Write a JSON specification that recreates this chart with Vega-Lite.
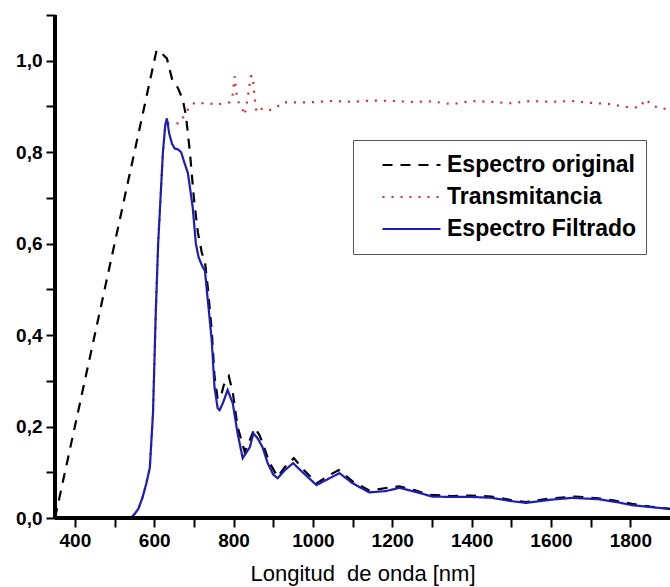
{
  "$schema": "https://vega.github.io/schema/vega-lite/v6.json",
  "width": 615,
  "height": 503,
  "autosize": {"type": "none"},
  "padding": {"left": 55, "top": 15, "right": 0, "bottom": 69},
  "background": "white",
  "config": {"view": {"stroke": null}, "axis": {"grid": false}},
  "data": {"values": [
    {"s":"Espectro original","x":350,"y":0.0},{"s":"Espectro original","x":606,"y":1.023},{"s":"Espectro original","x":620,"y":1.015},{"s":"Espectro original","x":632,"y":1.005},{"s":"Espectro original","x":645,"y":0.96},{"s":"Espectro original","x":660,"y":0.94},{"s":"Espectro original","x":672,"y":0.915},{"s":"Espectro original","x":680,"y":0.88},{"s":"Espectro original","x":690,"y":0.80},{"s":"Espectro original","x":700,"y":0.70},{"s":"Espectro original","x":710,"y":0.625},{"s":"Espectro original","x":720,"y":0.58},{"s":"Espectro original","x":728,"y":0.56},{"s":"Espectro original","x":735,"y":0.505},{"s":"Espectro original","x":745,"y":0.41},{"s":"Espectro original","x":752,"y":0.31},{"s":"Espectro original","x":760,"y":0.26},{"s":"Espectro original","x":768,"y":0.265},{"s":"Espectro original","x":775,"y":0.29},{"s":"Espectro original","x":788,"y":0.31},{"s":"Espectro original","x":798,"y":0.275},{"s":"Espectro original","x":810,"y":0.20},{"s":"Espectro original","x":828,"y":0.145},{"s":"Espectro original","x":840,"y":0.168},{"s":"Espectro original","x":853,"y":0.197},{"s":"Espectro original","x":865,"y":0.182},{"s":"Espectro original","x":875,"y":0.16},{"s":"Espectro original","x":890,"y":0.122},{"s":"Espectro original","x":911,"y":0.09},{"s":"Espectro original","x":930,"y":0.112},{"s":"Espectro original","x":952,"y":0.131},{"s":"Espectro original","x":975,"y":0.107},{"s":"Espectro original","x":1010,"y":0.076},{"s":"Espectro original","x":1040,"y":0.093},{"s":"Espectro original","x":1065,"y":0.105},{"s":"Espectro original","x":1100,"y":0.08},{"s":"Espectro original","x":1142,"y":0.06},{"s":"Espectro original","x":1180,"y":0.065},{"s":"Espectro original","x":1218,"y":0.069},{"s":"Espectro original","x":1260,"y":0.06},{"s":"Espectro original","x":1290,"y":0.051},{"s":"Espectro original","x":1350,"y":0.048},{"s":"Espectro original","x":1400,"y":0.049},{"s":"Espectro original","x":1450,"y":0.047},{"s":"Espectro original","x":1500,"y":0.039},{"s":"Espectro original","x":1537,"y":0.035},{"s":"Espectro original","x":1600,"y":0.043},{"s":"Espectro original","x":1660,"y":0.047},{"s":"Espectro original","x":1720,"y":0.043},{"s":"Espectro original","x":1760,"y":0.038},{"s":"Espectro original","x":1804,"y":0.031},{"s":"Espectro original","x":1850,"y":0.025},{"s":"Espectro original","x":1900,"y":0.02},
    {"s":"Transmitancia","x":350,"y":0},{"s":"Transmitancia","x":545,"y":0},{"s":"Transmitancia","x":550,"y":0.008},{"s":"Transmitancia","x":560,"y":0.02},{"s":"Transmitancia","x":571,"y":0.046},{"s":"Transmitancia","x":580,"y":0.075},{"s":"Transmitancia","x":589,"y":0.11},{"s":"Transmitancia","x":597,"y":0.23},{"s":"Transmitancia","x":604,"y":0.45},{"s":"Transmitancia","x":610,"y":0.6},{"s":"Transmitancia","x":616,"y":0.7},{"s":"Transmitancia","x":622,"y":0.8},{"s":"Transmitancia","x":628,"y":0.86},{"s":"Transmitancia","x":634,"y":0.863},{"s":"Transmitancia","x":664,"y":0.863},{"s":"Transmitancia","x":681,"y":0.888},{"s":"Transmitancia","x":695,"y":0.905},{"s":"Transmitancia","x":707,"y":0.909},{"s":"Transmitancia","x":722,"y":0.907},{"s":"Transmitancia","x":740,"y":0.907},{"s":"Transmitancia","x":757,"y":0.903},{"s":"Transmitancia","x":773,"y":0.907},{"s":"Transmitancia","x":790,"y":0.909},{"s":"Transmitancia","x":797,"y":0.92},{"s":"Transmitancia","x":803,"y":0.966},{"s":"Transmitancia","x":806,"y":0.935},{"s":"Transmitancia","x":812,"y":0.91},{"s":"Transmitancia","x":820,"y":0.9},{"s":"Transmitancia","x":828,"y":0.881},{"s":"Transmitancia","x":836,"y":0.92},{"s":"Transmitancia","x":843,"y":0.965},{"s":"Transmitancia","x":848,"y":0.968},{"s":"Transmitancia","x":853,"y":0.92},{"s":"Transmitancia","x":858,"y":0.887},{"s":"Transmitancia","x":873,"y":0.896},{"s":"Transmitancia","x":891,"y":0.892},{"s":"Transmitancia","x":908,"y":0.898},{"s":"Transmitancia","x":924,"y":0.909},{"s":"Transmitancia","x":959,"y":0.909},{"s":"Transmitancia","x":991,"y":0.909},{"s":"Transmitancia","x":1050,"y":0.912},{"s":"Transmitancia","x":1100,"y":0.91},{"s":"Transmitancia","x":1150,"y":0.913},{"s":"Transmitancia","x":1200,"y":0.912},{"s":"Transmitancia","x":1250,"y":0.91},{"s":"Transmitancia","x":1300,"y":0.911},{"s":"Transmitancia","x":1350,"y":0.905},{"s":"Transmitancia","x":1400,"y":0.912},{"s":"Transmitancia","x":1450,"y":0.91},{"s":"Transmitancia","x":1500,"y":0.907},{"s":"Transmitancia","x":1550,"y":0.912},{"s":"Transmitancia","x":1600,"y":0.91},{"s":"Transmitancia","x":1650,"y":0.912},{"s":"Transmitancia","x":1700,"y":0.908},{"s":"Transmitancia","x":1750,"y":0.905},{"s":"Transmitancia","x":1780,"y":0.9},{"s":"Transmitancia","x":1800,"y":0.898},{"s":"Transmitancia","x":1823,"y":0.898},{"s":"Transmitancia","x":1839,"y":0.916},{"s":"Transmitancia","x":1855,"y":0.902},{"s":"Transmitancia","x":1880,"y":0.895},{"s":"Transmitancia","x":1900,"y":0.895},
    {"s":"Espectro Filtrado","x":350,"y":0},{"s":"Espectro Filtrado","x":540,"y":0},{"s":"Espectro Filtrado","x":550,"y":0.008},{"s":"Espectro Filtrado","x":560,"y":0.02},{"s":"Espectro Filtrado","x":571,"y":0.046},{"s":"Espectro Filtrado","x":580,"y":0.075},{"s":"Espectro Filtrado","x":589,"y":0.11},{"s":"Espectro Filtrado","x":597,"y":0.23},{"s":"Espectro Filtrado","x":604,"y":0.45},{"s":"Espectro Filtrado","x":610,"y":0.6},{"s":"Espectro Filtrado","x":616,"y":0.7},{"s":"Espectro Filtrado","x":622,"y":0.8},{"s":"Espectro Filtrado","x":628,"y":0.86},{"s":"Espectro Filtrado","x":632,"y":0.874},{"s":"Espectro Filtrado","x":638,"y":0.84},{"s":"Espectro Filtrado","x":645,"y":0.818},{"s":"Espectro Filtrado","x":652,"y":0.808},{"s":"Espectro Filtrado","x":660,"y":0.806},{"s":"Espectro Filtrado","x":668,"y":0.8},{"s":"Espectro Filtrado","x":675,"y":0.78},{"s":"Espectro Filtrado","x":685,"y":0.754},{"s":"Espectro Filtrado","x":697,"y":0.68},{"s":"Espectro Filtrado","x":705,"y":0.6},{"s":"Espectro Filtrado","x":712,"y":0.57},{"s":"Espectro Filtrado","x":720,"y":0.553},{"s":"Espectro Filtrado","x":728,"y":0.54},{"s":"Espectro Filtrado","x":735,"y":0.477},{"s":"Espectro Filtrado","x":745,"y":0.389},{"s":"Espectro Filtrado","x":752,"y":0.286},{"s":"Espectro Filtrado","x":760,"y":0.24},{"s":"Espectro Filtrado","x":765,"y":0.236},{"s":"Espectro Filtrado","x":773,"y":0.251},{"s":"Espectro Filtrado","x":785,"y":0.28},{"s":"Espectro Filtrado","x":798,"y":0.251},{"s":"Espectro Filtrado","x":810,"y":0.186},{"s":"Espectro Filtrado","x":823,"y":0.131},{"s":"Espectro Filtrado","x":830,"y":0.14},{"s":"Espectro Filtrado","x":841,"y":0.155},{"s":"Espectro Filtrado","x":850,"y":0.185},{"s":"Espectro Filtrado","x":860,"y":0.175},{"s":"Espectro Filtrado","x":873,"y":0.155},{"s":"Espectro Filtrado","x":886,"y":0.12},{"s":"Espectro Filtrado","x":900,"y":0.095},{"s":"Espectro Filtrado","x":911,"y":0.087},{"s":"Espectro Filtrado","x":930,"y":0.105},{"s":"Espectro Filtrado","x":950,"y":0.12},{"s":"Espectro Filtrado","x":974,"y":0.1},{"s":"Espectro Filtrado","x":1009,"y":0.072},{"s":"Espectro Filtrado","x":1042,"y":0.087},{"s":"Espectro Filtrado","x":1067,"y":0.098},{"s":"Espectro Filtrado","x":1100,"y":0.076},{"s":"Espectro Filtrado","x":1142,"y":0.056},{"s":"Espectro Filtrado","x":1185,"y":0.059},{"s":"Espectro Filtrado","x":1218,"y":0.066},{"s":"Espectro Filtrado","x":1268,"y":0.055},{"s":"Espectro Filtrado","x":1300,"y":0.047},{"s":"Espectro Filtrado","x":1350,"y":0.046},{"s":"Espectro Filtrado","x":1402,"y":0.046},{"s":"Espectro Filtrado","x":1452,"y":0.044},{"s":"Espectro Filtrado","x":1500,"y":0.037},{"s":"Espectro Filtrado","x":1537,"y":0.033},{"s":"Espectro Filtrado","x":1600,"y":0.04},{"s":"Espectro Filtrado","x":1653,"y":0.044},{"s":"Espectro Filtrado","x":1721,"y":0.041},{"s":"Espectro Filtrado","x":1770,"y":0.034},{"s":"Espectro Filtrado","x":1804,"y":0.028},{"s":"Espectro Filtrado","x":1850,"y":0.024},{"s":"Espectro Filtrado","x":1897,"y":0.02}
  ]},
  "layer": [
    {
      "mark": {"type": "line", "strokeWidth": 2.2, "clip": true},
      "encoding": {
        "x": {
          "field": "x", "type": "quantitative",
          "scale": {"domain": [350, 1900], "nice": false, "zero": false},
          "axis": {
            "values": [400,500,600,700,800,900,1000,1100,1200,1300,1400,1500,1600,1700,1800],
            "labelExpr": "datum.value % 200 == 0 ? format(datum.value, 'd') : ''",
            "labelOverlap": false, "labelFlush": false,
            "tickSize": 9, "tickWidth": 2, "tickColor": "black",
            "labelFont": "Liberation Sans", "labelFontSize": 19, "labelFontWeight": "bold", "labelColor": "black", "labelPadding": 4,
            "title": "Longitud\u00a0 de onda [nm]", "titleFont": "Liberation Sans", "titleFontSize": 22, "titleFontWeight": "normal", "titleColor": "black", "titlePadding": 13
          }
        },
        "y": {
          "field": "y", "type": "quantitative",
          "scale": {"domain": [0, 1.1], "nice": false},
          "axis": {
            "values": [0,0.1,0.2,0.3,0.4,0.5,0.6,0.7,0.8,0.9,1.0,1.1],
            "labelExpr": "round(datum.value*10) % 2 == 0 ? replace(format(datum.value, '.1f'), '.', ',') : ''",
            "labelOverlap": false, "labelFlush": false,
            "tickSize": 9, "tickWidth": 2, "tickColor": "black",
            "labelFont": "Liberation Sans", "labelFontSize": 19, "labelFontWeight": "bold", "labelColor": "black", "labelPadding": 4,
            "title": null
          }
        },
        "color": {
          "field": "s", "type": "nominal",
          "scale": {"domain": ["Espectro original", "Transmitancia", "Espectro Filtrado"], "range": ["#000000", "#d42a2a", "#1c1cb8"]},
          "legend": {
            "title": null, "orient": "none", "legendX": 298, "legendY": 125,
            "padding": 9, "strokeColor": "#555555", "fillColor": "white",
            "symbolType": "stroke", "symbolSize": 3364, "symbolStrokeWidth": 2.2, "symbolOffset": 19,
            "labelFont": "Liberation Sans", "labelFontSize": 23, "labelFontWeight": "bold", "labelColor": "black", "labelOffset": 5, "labelLimit": 400,
            "clipHeight": 32, "rowPadding": 0
          }
        },
        "strokeDash": {
          "field": "s", "type": "nominal",
          "scale": {"domain": ["Espectro original", "Transmitancia", "Espectro Filtrado"], "range": [[10, 8], [2, 7], [1, 0]]},
          "legend": {
            "title": null, "orient": "none", "legendX": 298, "legendY": 125,
            "padding": 9, "strokeColor": "#555555", "fillColor": "white",
            "symbolType": "stroke", "symbolSize": 3364, "symbolStrokeWidth": 2.2, "symbolOffset": 19,
            "labelFont": "Liberation Sans", "labelFontSize": 23, "labelFontWeight": "bold", "labelColor": "black", "labelOffset": 5, "labelLimit": 400,
            "clipHeight": 32, "rowPadding": 0
          }
        }
      }
    },
    {
      "mark": {"type": "rule", "strokeWidth": 3, "color": "black"},
      "encoding": {"x": {"datum": 350, "type": "quantitative"}}
    },
    {
      "mark": {"type": "rule", "strokeWidth": 3, "color": "black"},
      "encoding": {"y": {"datum": 0, "type": "quantitative"}}
    }
  ]
}
